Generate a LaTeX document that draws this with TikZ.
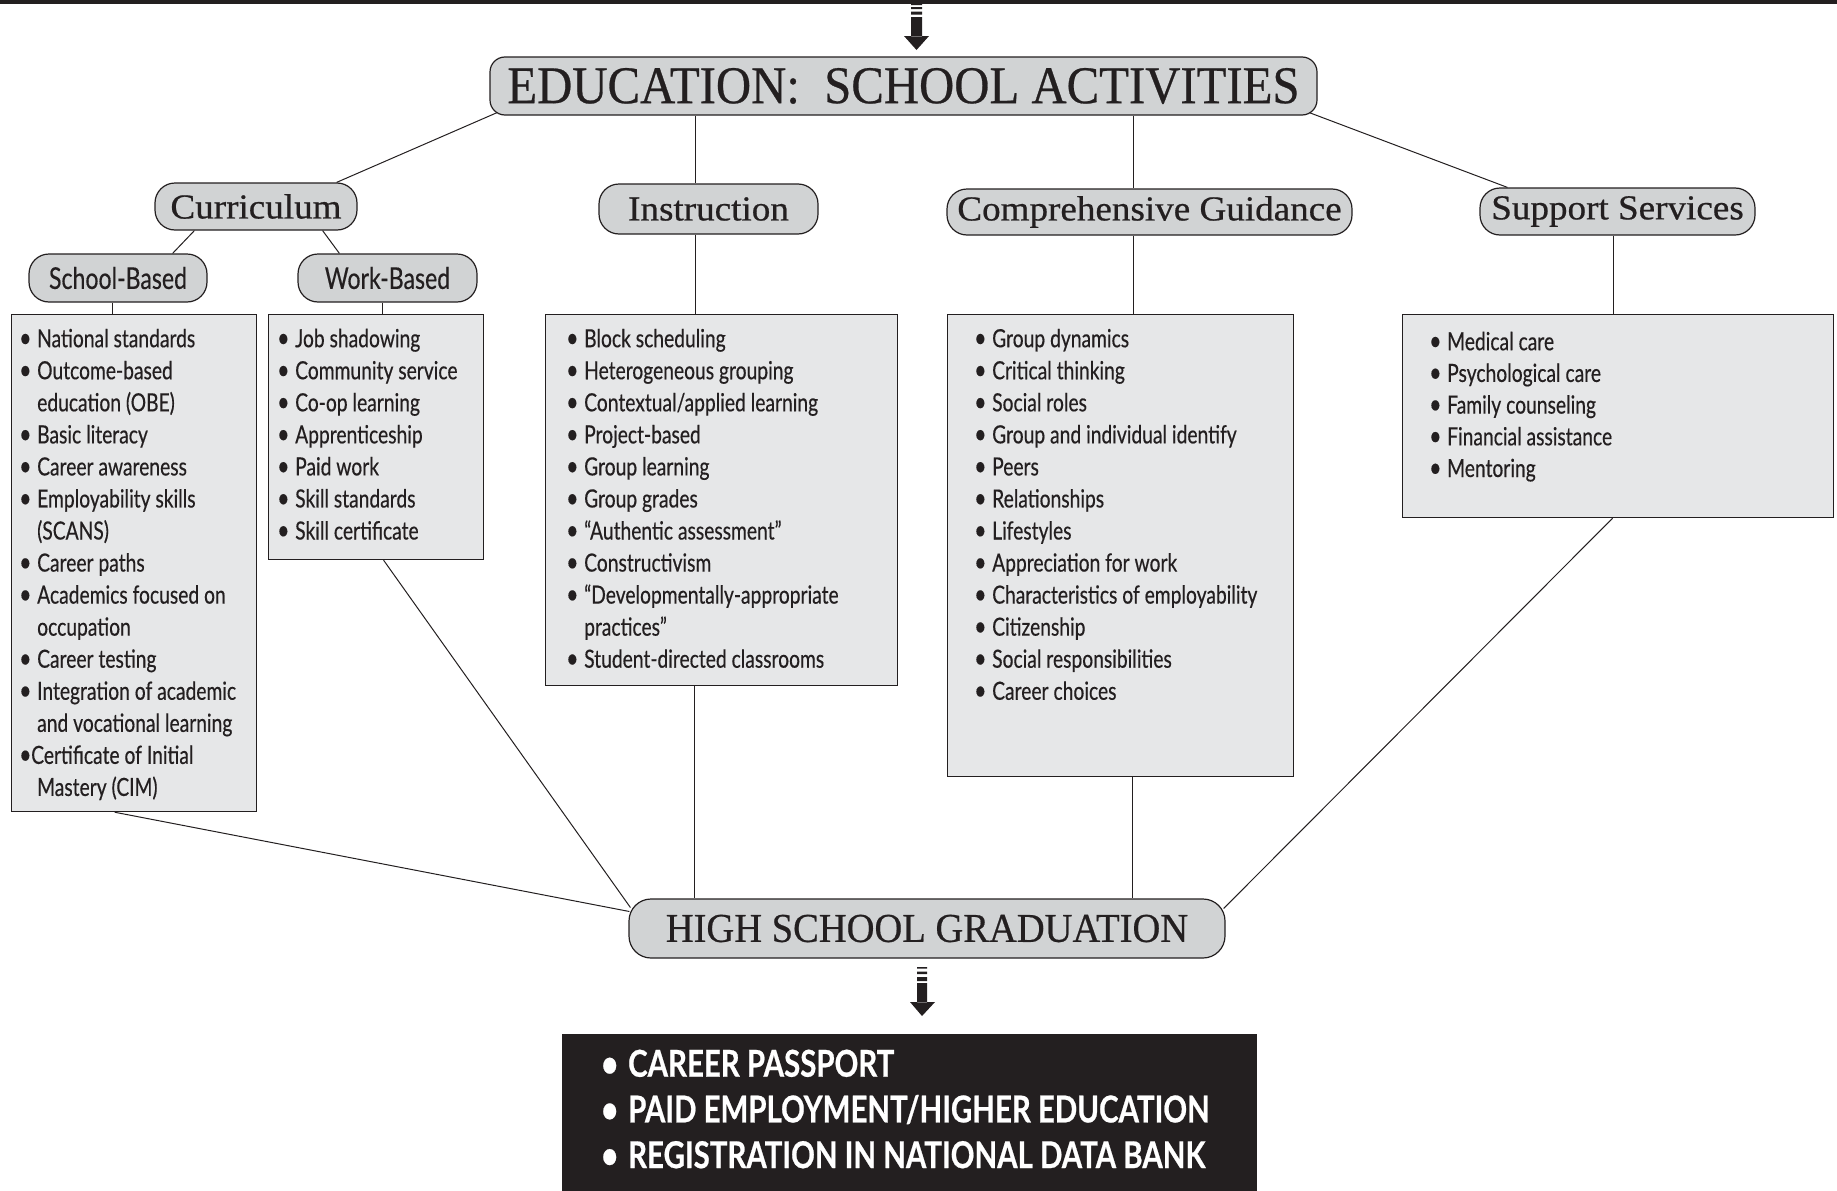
\documentclass[tikz,border=0pt]{standalone}
\usepackage{fontspec}
\usepackage{graphicx}
\setmainfont{Liberation Serif}
\newfontfamily\capserif[FakeStretch=0.92,FakeBold=0.5]{Liberation Serif}
\newfontfamily\capserifb[FakeStretch=0.94,FakeBold=0.5]{Liberation Serif}
\newfontfamily\lcserif[FakeStretch=1.06,FakeBold=0.6]{Liberation Serif}
\newfontfamily\cond[FakeStretch=0.77,FakeBold=0.4]{Lato}
\newfontfamily\condbold[FakeStretch=0.795,FakeBold=0.6]{Lato}
\definecolor{ink}{HTML}{231F20}
\definecolor{pillgray}{HTML}{D1D3D4}
\definecolor{boxgray}{HTML}{E6E7E8}
\newcommand\bl{\makebox[18pt][l]{\scalebox{1.1}{•}}}
\newcommand\bltight{\makebox[12pt][l]{\scalebox{1.1}{•}}}
\newcommand\ind{\hspace*{18pt}}
\newcommand\bigbl{\makebox[27pt][l]{•}}
\pgfdeclarelayer{bg}
\pgfsetlayers{bg,main}
\tikzset{
  pill/.style={draw=ink, fill=pillgray, line width=1.2pt, rounded corners=20pt, inner sep=0pt, text=ink},
  listbox/.style={draw=ink, fill=boxgray, line width=1.2pt, inner sep=0pt, anchor=north west},
  conn/.style={draw=ink, line width=1pt},
  listtext/.style={anchor=north west, inner sep=0pt, align=left, text=ink, font=\cond\fontsize{25}{32.05}\selectfont},
  serifsub/.style={font=\lcserif\fontsize{35}{40}\selectfont},
  sanssub/.style={font=\cond\fontsize{30}{36}\selectfont}
}
\begin{document}
\begin{tikzpicture}[x=1pt,y=-1pt]
\useasboundingbox (0,0) rectangle (1837,1191);
% top rule
\fill[ink] (0,0) rectangle (1837,3.5);
% top arrow
\fill[ink] (911,3.5) rectangle (922,5) (911,7) rectangle (922,9) (911,11.5) rectangle (922,14.5)
  (911,17) rectangle (922,36.5) (904,36) -- (929,36) -- (916.5,50) -- cycle;

% title nodes
\node[pill, rounded corners=15pt, minimum width=827, minimum height=58,
  font=\capserif\fontsize{53}{60}\selectfont] (edu) at (903.5,86) {EDUCATION:\ \ SCHOOL ACTIVITIES};
\node[pill, serifsub, minimum width=202, minimum height=47] (curr) at (256,206.5) {Curriculum};
\node[pill, serifsub, minimum width=219, minimum height=50] (instr) at (708.5,209) {Instruction};
\node[pill, serifsub, minimum width=405, minimum height=46] (comp) at (1149.5,212) {Comprehensive Guidance};
\node[pill, serifsub, minimum width=275, minimum height=47] (supp) at (1617.5,211.5) {Support Services};
\node[pill, sanssub, minimum width=178, minimum height=48] (school) at (118,278) {School-Based};
\node[pill, sanssub, minimum width=179, minimum height=48] (work) at (387.5,278) {Work-Based};
\node[pill, rounded corners=22pt, minimum width=596, minimum height=59,
  font=\capserifb\fontsize{41}{48}\selectfont] (hsg) at (927,928.5) {HIGH SCHOOL GRADUATION};

% list boxes
\node[listbox, minimum width=245, minimum height=497] (sbox) at (11,314) {};
\node[listbox, minimum width=215, minimum height=245] (wbox) at (268,314) {};
\node[listbox, minimum width=352, minimum height=371] (ibox) at (545,314) {};
\node[listbox, minimum width=346, minimum height=462] (cbox) at (947,314) {};
\node[listbox, minimum width=431, minimum height=203] (spbox) at (1402,314) {};

\node[listtext] (slist) at (19,322) {\rule{0pt}{25pt}\bl National standards\\
\bl Outcome-based\\
\ind education (OBE)\\
\bl Basic literacy\\
\bl Career awareness\\
\bl Employability skills\\
\ind (SCANS)\\
\bl Career paths\\
\bl Academics focused on\\
\ind occupation\\
\bl Career testing\\
\bl Integration of academic\\
\ind and vocational learning\\
\bltight Certificate of Initial\\
\ind Mastery (CIM)};

\node[listtext] (wlist) at (277,322) {\rule{0pt}{25pt}\bl Job shadowing\\
\bl Community service\\
\bl Co-op learning\\
\bl Apprenticeship\\
\bl Paid work\\
\bl Skill standards\\
\bl Skill certificate};

\node[listtext] (ilist) at (566,322) {\rule{0pt}{25pt}\bl Block scheduling\\
\bl Heterogeneous grouping\\
\bl Contextual/applied learning\\
\bl Project-based\\
\bl Group learning\\
\bl Group grades\\
\bl “Authentic assessment”\\
\bl Constructivism\\
\bl “Developmentally-appropriate\\
\ind practices”\\
\bl Student-directed classrooms};

\node[listtext] (clist) at (974,322) {\rule{0pt}{25pt}\bl Group dynamics\\
\bl Critical thinking\\
\bl Social roles\\
\bl Group and individual identify\\
\bl Peers\\
\bl Relationships\\
\bl Lifestyles\\
\bl Appreciation for work\\
\bl Characteristics of employability\\
\bl Citizenship\\
\bl Social responsibilities\\
\bl Career choices};

\node[listtext, font=\cond\fontsize{25}{31.7}\selectfont] (splist) at (1429,325) {\rule{0pt}{25pt}\bl Medical care\\
\bl Psychological care\\
\bl Family counseling\\
\bl Financial assistance\\
\bl Mentoring};

% connectors
\begin{pgfonlayer}{bg}
\draw[conn] ([shift={(10,-4)}]edu.south west) -- ([xshift=-21]curr.north east);
\draw[conn] ([xshift=-13.5]instr.north |- edu.south) -- ([xshift=-13.5]instr.north);
\draw[conn] ([xshift=-16.5]comp.north |- edu.south) -- ([xshift=-16.5]comp.north);
\draw[conn] ([shift={(-11,-4)}]edu.south east) -- ([xshift=28]supp.north west);
\draw[conn] ([xshift=40]curr.south west) -- ([xshift=-35]school.north east);
\draw[conn] ([xshift=-35]curr.south east) -- ([xshift=42]work.north west);
\draw[conn] ([xshift=-6]school.south) -- ([xshift=-6]school.south |- sbox.north);
\draw[conn] ([xshift=-5]work.south) -- ([xshift=-5]work.south |- wbox.north);
\draw[conn] ([xshift=-13.5]instr.south) -- ([xshift=-13.5]instr.south |- ibox.north);
\draw[conn] ([xshift=-16.5]comp.south) -- ([xshift=-16.5]comp.south |- cbox.north);
\draw[conn] ([xshift=-4.5]supp.south) -- ([xshift=-4.5]supp.south |- spbox.north);
\draw[conn] ([xshift=-19.5]sbox.south) -- ([shift={(1,-17)}]hsg.west);
\draw[conn] ([xshift=7.5]wbox.south) -- ([shift={(2,-21)}]hsg.west);
\draw[conn] ([xshift=-27]ibox.south) -- ([xshift=-27]ibox.south |- hsg.north);
\draw[conn] ([xshift=12]cbox.south) -- ([xshift=12]cbox.south |- hsg.north);
\draw[conn] ([xshift=-5.5]spbox.south) -- ([shift={(-2,-20)}]hsg.east);
\end{pgfonlayer}

% bottom arrow
\fill[ink] (917,967) rectangle (927,968.5) (917,971.5) rectangle (927,974) (917,977) rectangle (927,981)
  (917,983) rectangle (927,1002.5) (910,1002) -- (935,1002) -- (922,1016) -- cycle;

% output box
\node[fill=ink, inner sep=0pt, minimum width=695, minimum height=157, anchor=north west] (outbox) at (562,1034) {};
\node[anchor=north west, inner sep=0pt, align=left, text=white,
  font=\condbold\bfseries\fontsize{37}{45.7}\selectfont] (outtext) at (601,1046.5)
  {\rule{0pt}{30pt}\bigbl CAREER PASSPORT\\
   \bigbl PAID EMPLOYMENT/HIGHER EDUCATION\\
   \bigbl REGISTRATION IN NATIONAL DATA BANK};
\end{tikzpicture}
\end{document}
